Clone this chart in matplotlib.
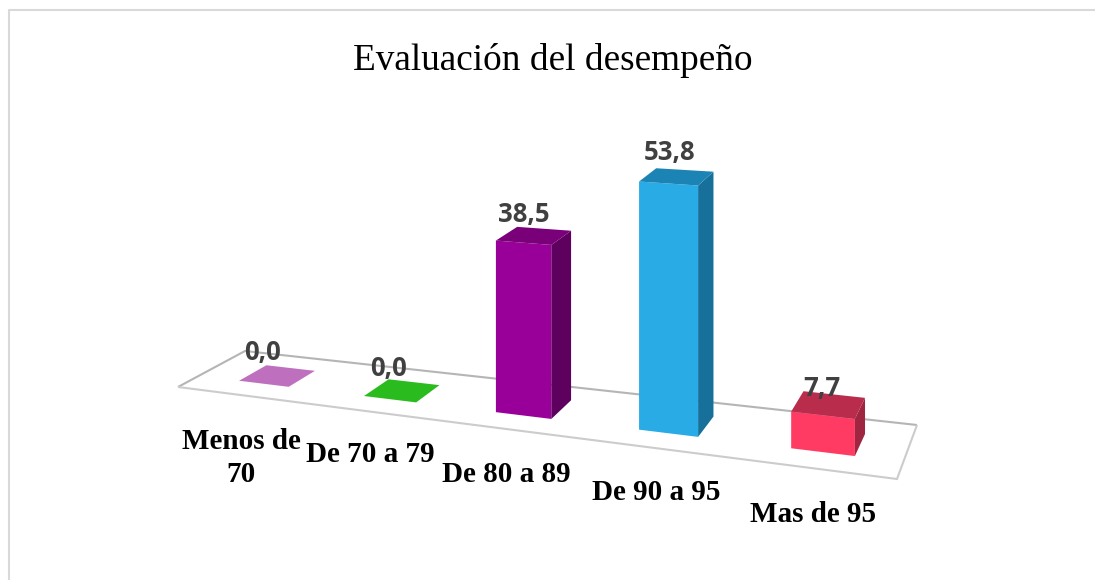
import numpy as np
import matplotlib
matplotlib.use('Agg')
import matplotlib.pyplot as plt
from matplotlib.patches import Polygon

title = "Evaluación del desempeño"
categories = ["Menos de\n70", "De 70 a 79", "De 80 a 89", "De 90 a 95", "Mas de 95"]
values = [0.0, 0.0, 38.5, 53.8, 7.7]

front_colors = ["#BE70BE", "#2ABB1E", "#990099", "#29ABE6", "#FF3B63"]
top_colors = ["#BE70BE", "#2ABB1E", "#7A007A", "#1C84B5", "#B92C4B"]
side_colors = ["#BE70BE", "#2ABB1E", "#5E005E", "#17709A", "#9E2640"]

# layout, in picture pixels
floor_px = np.array([[178, 387], [897, 479], [917, 425], [245, 351]], dtype=float)
label_px = [(241, 458), (370, 455), (506, 475), (656, 492), (813, 515)]
value_shift = [(-15, -23), (-14, -22), (-10, -21), (-7, -24), (-7, -16)]
# bars on the floor plane, one floor unit per category
bar_left = [0.362, 1.414, 2.421, 3.41, 4.359]
bar_width = [0.43, 0.41, 0.395, 0.38, 0.37]
v0 = 0.295
v1 = 0.715


def homography(src, dst):
    rows = []
    for (u, v), (x, y) in zip(src, dst):
        rows.append([u, v, 1, 0, 0, 0, -u * x, -v * x, -x])
        rows.append([0, 0, 0, u, v, 1, -u * y, -v * y, -y])
    return np.linalg.svd(np.array(rows))[2][-1].reshape(3, 3)


H = homography([(0, 0), (5, 0), (5, 1), (0, 1)], floor_px)


def project(u, v, value=0.0):
    p = H @ np.array([u, v, 1.0])
    x, y = p[0] / p[2], p[1] / p[2]
    k = (4.15 + 0.16 * u) * (1 - 0.06 * v)
    return x, y - value * k


fig = plt.figure(figsize=(10.95, 5.8), dpi=100)
ax = fig.add_axes([0, 0, 1, 1])
ax.set_xlim(0, 1095)
ax.set_ylim(580, 0)
ax.axis('off')

ax.plot([9, 9, 1095], [580, 10, 10], color="#D9D9D9", lw=1.5)

ax.add_patch(Polygon(floor_px[[0, 3, 2]], closed=False, fill=False, edgecolor="#B5B5B5", lw=1.5, zorder=1))
ax.add_patch(Polygon(floor_px[[0, 1, 2]], closed=False, fill=False, edgecolor="#CCCCCC", lw=1.5, zorder=1))

for i, val in enumerate(values):
    u0 = bar_left[i]
    u1 = bar_left[i] + bar_width[i]
    if val > 0:
        front = [project(u0, v0), project(u1, v0), project(u1, v0, val), project(u0, v0, val)]
        side = [project(u1, v0), project(u1, v1), project(u1, v1, val), project(u1, v0, val)]
        ax.add_patch(Polygon(front, color=front_colors[i], lw=0, zorder=3))
        ax.add_patch(Polygon(side, color=side_colors[i], lw=0, zorder=3))
    top = [project(u0, v0, val), project(u1, v0, val), project(u1, v1, val), project(u0, v1, val)]
    ax.add_patch(Polygon(top, color=top_colors[i], lw=0, zorder=3))

    cx, cy = np.mean(top, axis=0)
    ax.text(cx + value_shift[i][0], cy + value_shift[i][1], f"{val:.1f}".replace(".", ","),
            ha='center', va='center', fontsize=18.5, fontweight='bold', family='Open Sans', color="#404040", zorder=5)

    ax.text(label_px[i][0], label_px[i][1], categories[i], ha='center', va='center', fontsize=21,
            fontweight='bold', family='Liberation Serif', color="black", linespacing=1.27, zorder=5)

ax.text(553, 60, title, ha='center', va='center', fontsize=26.85, family='Liberation Serif', color="black")

fig.savefig("out.png", dpi=100)
